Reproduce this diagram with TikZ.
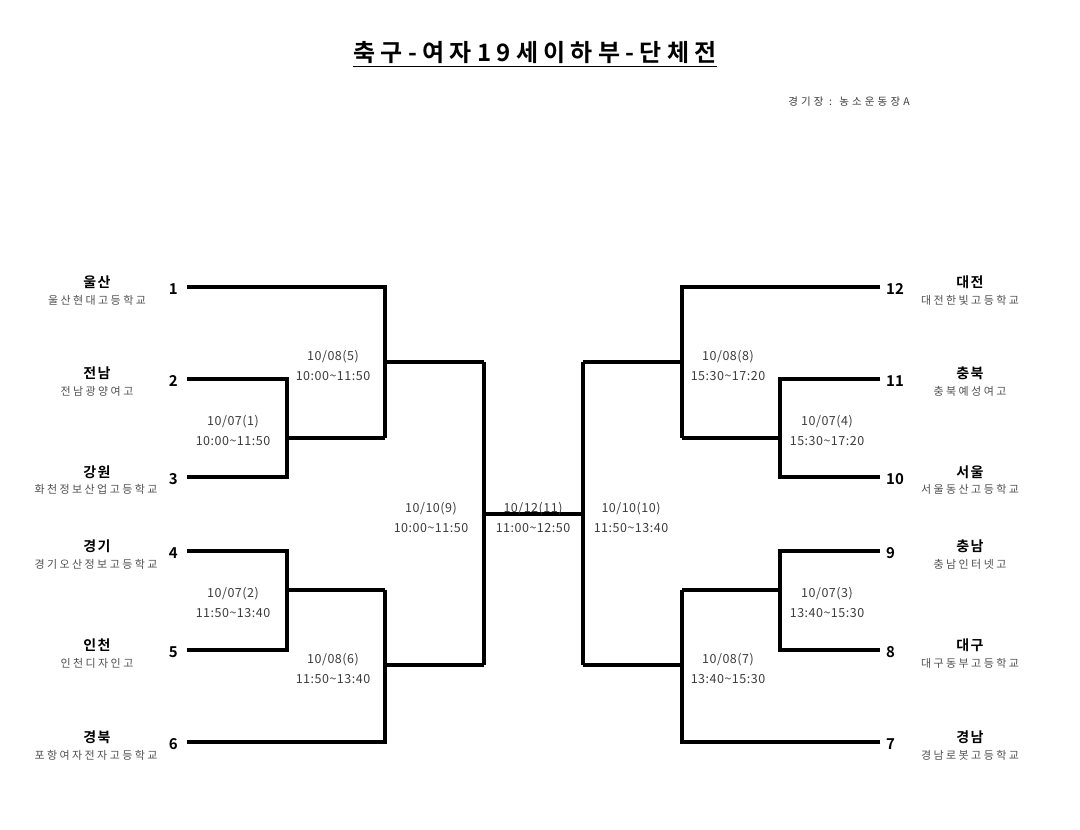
\documentclass[tikz,border=0pt]{standalone}
\usepackage{fontspec}
\newfontfamily\ttlf{Noto Sans CJK KR}[UprightFont={* Bold}, LetterSpace=22]
\newfontfamily\namef{Noto Sans CJK KR}[UprightFont={* Bold}, LetterSpace=10]
\newfontfamily\subf{Noto Sans CJK KR}[LetterSpace=22]
\newfontfamily\datef{Noto Sans CJK KR}[LetterSpace=4]
\newfontfamily\numf{Noto Sans CJK KR}[UprightFont={* Bold}]
\newfontfamily\venuef{Noto Sans CJK KR}[LetterSpace=30]
\definecolor{datec}{RGB}{60,60,60}
\definecolor{subc}{RGB}{80,80,80}
\tikzset{
  br/.style={line width=3.3pt, line join=miter},
  dl/.style={font=\datef\fontsize{12.5}{19.5}\selectfont, text=datec, align=center, inner sep=0pt},
  nm/.style={font=\namef\fontsize{14}{16}\selectfont, inner sep=0pt},
  sb/.style={font=\subf\fontsize{11}{13}\selectfont, text=subc, inner sep=0pt},
  numl/.style={font=\numf\fontsize{15}{17}\selectfont, inner sep=0pt, anchor=east},
  numr/.style={font=\numf\fontsize{15}{17}\selectfont, inner sep=0pt, anchor=west},
}
\begin{document}
\begin{tikzpicture}[x=1pt,y=-1pt]
\useasboundingbox (0,0) rectangle (1080,830);
\fill[white] (0,0) rectangle (1080,830);
% title
\node[inner sep=0pt, font=\ttlf\fontsize{24}{28}\selectfont] (title) at (535,53) {축구-여자19세이하부-단체전};
\draw[line width=1.8pt] ([yshift=-4.5pt]title.base west) -- ([yshift=-4.5pt]title.base east);
\node[inner sep=0pt, font=\venuef\fontsize{10.5}{12}\selectfont, text=datec] (venue) at (849,102) {경기장 : 농소운동장A};
% slot coordinates
\coordinate (s1) at (187,287); \coordinate (s2) at (187,379); \coordinate (s3) at (187,477);
\coordinate (s4) at (187,551); \coordinate (s5) at (187,650); \coordinate (s6) at (187,742);
\coordinate (t12) at (880,287); \coordinate (t11) at (880,379); \coordinate (t10) at (880,477);
\coordinate (t9) at (880,551); \coordinate (t8) at (880,650); \coordinate (t7) at (880,742);
% match junctions
\coordinate (m1) at (287,438); \coordinate (m2) at (287,590);
\coordinate (m5) at (385,362); \coordinate (m6) at (385,665);
\coordinate (m9) at (484,514); \coordinate (m10) at (583,514);
\coordinate (m4) at (780,438); \coordinate (m3) at (780,590);
\coordinate (m8) at (682,362); \coordinate (m7) at (682,665);
% left bracket
\draw[br] (s2) -- (s2 -| m1) -- (s3 -| m1) -- (s3);
\draw[br] (m1) -- (m1 -| m5);
\draw[br] (s1) -- (s1 -| m5) -- (m1 -| m5);
\draw[br] (m5) -- (m5 -| m9);
\draw[br] (s4) -- (s4 -| m2) -- (s5 -| m2) -- (s5);
\draw[br] (m2) -- (m2 -| m6);
\draw[br] (s6) -- (s6 -| m6) -- (m2 -| m6);
\draw[br] (m6) -- (m6 -| m9);
\draw[br] (m5 -| m9) -- (m6 -| m9);
\draw[br] (m9) -- (m10);
% right bracket
\draw[br] (t11) -- (t11 -| m4) -- (t10 -| m4) -- (t10);
\draw[br] (m4) -- (m4 -| m8);
\draw[br] (t12) -- (t12 -| m8) -- (m4 -| m8);
\draw[br] (m8) -- (m8 -| m10);
\draw[br] (t9) -- (t9 -| m3) -- (t8 -| m3) -- (t8);
\draw[br] (m3) -- (m3 -| m7);
\draw[br] (t7) -- (t7 -| m7) -- (m3 -| m7);
\draw[br] (m7) -- (m7 -| m10);
\draw[br] (m8 -| m10) -- (m7 -| m10);
% match labels
\node[dl] (l1) at (233,430.5) {10/07(1)\\10:00\textasciitilde 11:50};
\node[dl] (l5) at (333,365.5) {10/08(5)\\10:00\textasciitilde 11:50};
\node[dl] (l2) at (233,602.5) {10/07(2)\\11:50\textasciitilde 13:40};
\node[dl] (l6) at (333,668.5) {10/08(6)\\11:50\textasciitilde 13:40};
\node[dl] (l9) at (431,517.5) {10/10(9)\\10:00\textasciitilde 11:50};
\node[dl] (l11) at (533,517.5) {10/12(11)\\11:00\textasciitilde 12:50};
\node[dl] (l10) at (631,517.5) {10/10(10)\\11:50\textasciitilde 13:40};
\node[dl] (l8) at (728,365.5) {10/08(8)\\15:30\textasciitilde 17:20};
\node[dl] (l4) at (827,430.5) {10/07(4)\\15:30\textasciitilde 17:20};
\node[dl] (l3) at (827,602.5) {10/07(3)\\13:40\textasciitilde 15:30};
\node[dl] (l7) at (728,668.5) {10/08(7)\\13:40\textasciitilde 15:30};
% left numbers and names
\node[numl] (n1) at (178,289) {1};
\node[numl] (n2) at (178,381) {2};
\node[numl] (n3) at (178,479) {3};
\node[numl] (n4) at (178,553) {4};
\node[numl] (n5) at (178,652) {5};
\node[numl] (n6) at (178,744) {6};
\node[nm] (a1) at (97,282) {울산}; \node[sb] (b1) at (97,300) {울산현대고등학교};
\node[nm] (a2) at (97,373) {전남}; \node[sb] (b2) at (97,391) {전남광양여고};
\node[nm] (a3) at (97,472) {강원}; \node[sb] (b3) at (96,489) {화천정보산업고등학교};
\node[nm] (a4) at (97,546) {경기}; \node[sb] (b4) at (96,564) {경기오산정보고등학교};
\node[nm] (a5) at (97,645) {인천}; \node[sb] (b5) at (97,663) {인천디자인고};
\node[nm] (a6) at (97,737) {경북}; \node[sb] (b6) at (96,755) {포항여자전자고등학교};
% right numbers and names
\node[numr] (n12) at (886,289) {12};
\node[numr] (n11) at (886,381) {11};
\node[numr] (n10) at (886,479) {10};
\node[numr] (n9) at (886,553) {9};
\node[numr] (n8) at (886,652) {8};
\node[numr] (n7) at (886,744) {7};
\node[nm] (a12) at (970,282) {대전}; \node[sb] (b12) at (970,300) {대전한빛고등학교};
\node[nm] (a11) at (970,373) {충북}; \node[sb] (b11) at (970,391) {충북예성여고};
\node[nm] (a10) at (970,472) {서울}; \node[sb] (b10) at (970,489) {서울동산고등학교};
\node[nm] (a9) at (970,546) {충남}; \node[sb] (b9) at (970,564) {충남인터넷고};
\node[nm] (a8) at (970,645) {대구}; \node[sb] (b8) at (970,663) {대구동부고등학교};
\node[nm] (a7) at (970,737) {경남}; \node[sb] (b7) at (970,755) {경남로봇고등학교};
\end{tikzpicture}
\end{document}
